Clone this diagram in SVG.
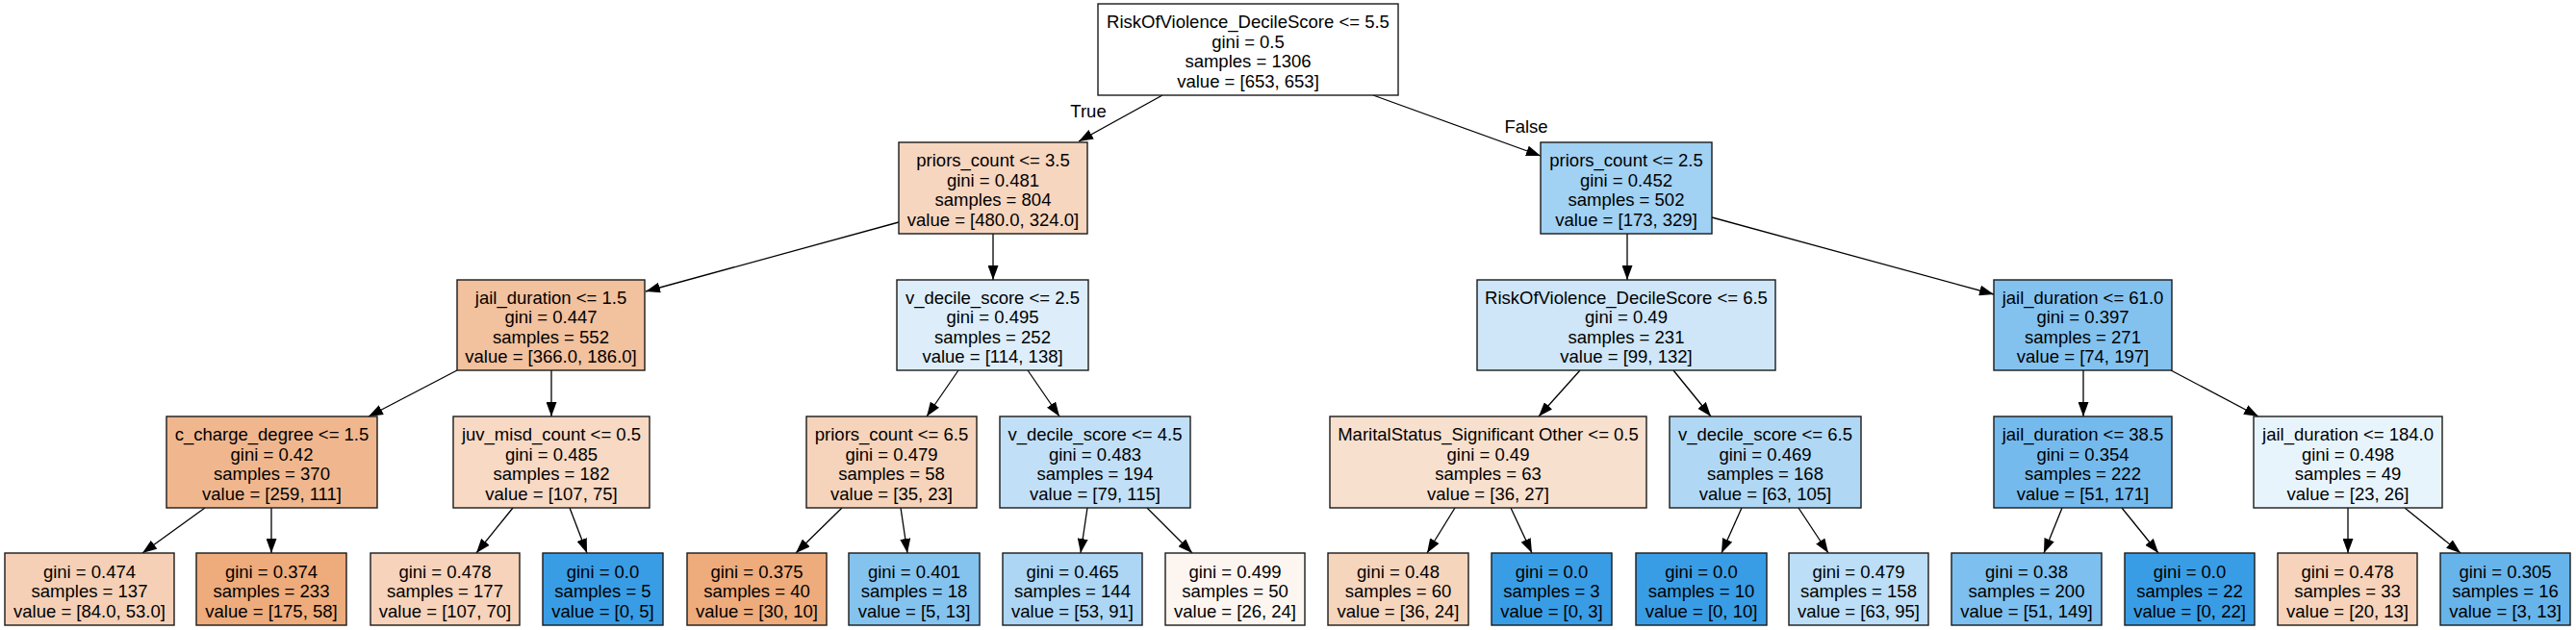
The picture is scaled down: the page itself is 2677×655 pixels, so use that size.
<svg xmlns="http://www.w3.org/2000/svg" width="2677" height="655" viewBox="0 0 2677 655">
<style>
.bg{fill:#ffffff}
.box{stroke:#1a1a1a;stroke-width:1.4}
.t{font-family:"Liberation Sans",Arial,Helvetica,sans-serif;font-size:18.5px;fill:#000;text-anchor:middle}
.e{stroke:#000;stroke-width:1.3;fill:none;marker-end:url(#arr)}
</style>
<defs>
<marker id="arr" markerUnits="userSpaceOnUse" markerWidth="15" markerHeight="11" viewBox="0 0 15 11" refX="15" refY="5.5" orient="auto">
<path d="M0,0 L15,5.5 L0,11 z" fill="#000"/>
</marker>
</defs>
<rect class="bg" x="0" y="0" width="2677" height="655"/>
<g id="edges">
<line class="e" x1="1208" y1="99" x2="1121" y2="147"/>
<line class="e" x1="1427" y1="99" x2="1601" y2="162"/>
<line class="e" x1="934" y1="231" x2="671" y2="303"/>
<line class="e" x1="1032" y1="243" x2="1032" y2="291"/>
<line class="e" x1="1691" y1="243" x2="1691" y2="291"/>
<line class="e" x1="1779" y1="226" x2="2072" y2="306"/>
<line class="e" x1="475" y1="385" x2="383" y2="433"/>
<line class="e" x1="573" y1="385" x2="573" y2="433"/>
<line class="e" x1="996" y1="385" x2="963" y2="433"/>
<line class="e" x1="1068" y1="385" x2="1101" y2="433"/>
<line class="e" x1="1642" y1="385" x2="1599" y2="433"/>
<line class="e" x1="1739" y1="385" x2="1778" y2="433"/>
<line class="e" x1="2165" y1="385" x2="2165" y2="433"/>
<line class="e" x1="2256" y1="385" x2="2347" y2="433"/>
<line class="e" x1="213" y1="528" x2="148" y2="575"/>
<line class="e" x1="282" y1="528" x2="282" y2="575"/>
<line class="e" x1="533" y1="528" x2="495" y2="575"/>
<line class="e" x1="592" y1="528" x2="610" y2="575"/>
<line class="e" x1="875" y1="528" x2="827" y2="575"/>
<line class="e" x1="936" y1="528" x2="943" y2="575"/>
<line class="e" x1="1130" y1="528" x2="1123" y2="575"/>
<line class="e" x1="1192" y1="528" x2="1239" y2="575"/>
<line class="e" x1="1512" y1="528" x2="1483" y2="575"/>
<line class="e" x1="1570" y1="528" x2="1592" y2="575"/>
<line class="e" x1="1810" y1="528" x2="1789" y2="575"/>
<line class="e" x1="1869" y1="528" x2="1900" y2="575"/>
<line class="e" x1="2143" y1="528" x2="2124" y2="575"/>
<line class="e" x1="2205" y1="528" x2="2243" y2="575"/>
<line class="e" x1="2440" y1="528" x2="2440" y2="575"/>
<line class="e" x1="2499" y1="528" x2="2557" y2="575"/>
<text class="t" x="1131" y="122">True</text>
<text class="t" x="1586" y="138">False</text>
</g>
<g id="n0"><rect class="box" x="1141" y="4" width="312" height="95" fill="#ffffff"/>
<text class="t"><tspan x="1297" y="29">RiskOfViolence_DecileScore &lt;= 5.5</tspan><tspan x="1297" y="49.5">gini = 0.5</tspan><tspan x="1297" y="70">samples = 1306</tspan><tspan x="1297" y="90.5">value = [653, 653]</tspan></text></g>
<g id="n1"><rect class="box" x="934" y="148" width="196" height="95" fill="#f7d6bf"/>
<text class="t"><tspan x="1032" y="173">priors_count &lt;= 3.5</tspan><tspan x="1032" y="193.5">gini = 0.481</tspan><tspan x="1032" y="214">samples = 804</tspan><tspan x="1032" y="234.5">value = [480.0, 324.0]</tspan></text></g>
<g id="n2"><rect class="box" x="1601" y="148" width="178" height="95" fill="#a1d1f3"/>
<text class="t"><tspan x="1690" y="173">priors_count &lt;= 2.5</tspan><tspan x="1690" y="193.5">gini = 0.452</tspan><tspan x="1690" y="214">samples = 502</tspan><tspan x="1690" y="234.5">value = [173, 329]</tspan></text></g>
<g id="n3"><rect class="box" x="475" y="291" width="195" height="94" fill="#f2c19e"/>
<text class="t"><tspan x="572.5" y="315.5">jail_duration &lt;= 1.5</tspan><tspan x="572.5" y="336">gini = 0.447</tspan><tspan x="572.5" y="356.5">samples = 552</tspan><tspan x="572.5" y="377">value = [366.0, 186.0]</tspan></text></g>
<g id="n4"><rect class="box" x="932" y="291" width="199" height="94" fill="#ddeefa"/>
<text class="t"><tspan x="1031.5" y="315.5">v_decile_score &lt;= 2.5</tspan><tspan x="1031.5" y="336">gini = 0.495</tspan><tspan x="1031.5" y="356.5">samples = 252</tspan><tspan x="1031.5" y="377">value = [114, 138]</tspan></text></g>
<g id="n5"><rect class="box" x="1535" y="291" width="310" height="94" fill="#cee6f8"/>
<text class="t"><tspan x="1690" y="315.5">RiskOfViolence_DecileScore &lt;= 6.5</tspan><tspan x="1690" y="336">gini = 0.49</tspan><tspan x="1690" y="356.5">samples = 231</tspan><tspan x="1690" y="377">value = [99, 132]</tspan></text></g>
<g id="n6"><rect class="box" x="2072" y="291" width="185" height="94" fill="#83c2ef"/>
<text class="t"><tspan x="2164.5" y="315.5">jail_duration &lt;= 61.0</tspan><tspan x="2164.5" y="336">gini = 0.397</tspan><tspan x="2164.5" y="356.5">samples = 271</tspan><tspan x="2164.5" y="377">value = [74, 197]</tspan></text></g>
<g id="n7"><rect class="box" x="173" y="433" width="219" height="95" fill="#f0b78e"/>
<text class="t"><tspan x="282.5" y="458">c_charge_degree &lt;= 1.5</tspan><tspan x="282.5" y="478.5">gini = 0.42</tspan><tspan x="282.5" y="499">samples = 370</tspan><tspan x="282.5" y="519.5">value = [259, 111]</tspan></text></g>
<g id="n8"><rect class="box" x="471" y="433" width="204" height="95" fill="#f7d9c4"/>
<text class="t"><tspan x="573" y="458">juv_misd_count &lt;= 0.5</tspan><tspan x="573" y="478.5">gini = 0.485</tspan><tspan x="573" y="499">samples = 182</tspan><tspan x="573" y="519.5">value = [107, 75]</tspan></text></g>
<g id="n9"><rect class="box" x="838" y="433" width="177" height="95" fill="#f6d4bb"/>
<text class="t"><tspan x="926.5" y="458">priors_count &lt;= 6.5</tspan><tspan x="926.5" y="478.5">gini = 0.479</tspan><tspan x="926.5" y="499">samples = 58</tspan><tspan x="926.5" y="519.5">value = [35, 23]</tspan></text></g>
<g id="n10"><rect class="box" x="1039" y="433" width="198" height="95" fill="#c1e0f7"/>
<text class="t"><tspan x="1138" y="458">v_decile_score &lt;= 4.5</tspan><tspan x="1138" y="478.5">gini = 0.483</tspan><tspan x="1138" y="499">samples = 194</tspan><tspan x="1138" y="519.5">value = [79, 115]</tspan></text></g>
<g id="n11"><rect class="box" x="1382" y="433" width="329" height="95" fill="#f8e0ce"/>
<text class="t"><tspan x="1546.5" y="458">MaritalStatus_Significant Other &lt;= 0.5</tspan><tspan x="1546.5" y="478.5">gini = 0.49</tspan><tspan x="1546.5" y="499">samples = 63</tspan><tspan x="1546.5" y="519.5">value = [36, 27]</tspan></text></g>
<g id="n12"><rect class="box" x="1735" y="433" width="199" height="95" fill="#b0d8f5"/>
<text class="t"><tspan x="1834.5" y="458">v_decile_score &lt;= 6.5</tspan><tspan x="1834.5" y="478.5">gini = 0.469</tspan><tspan x="1834.5" y="499">samples = 168</tspan><tspan x="1834.5" y="519.5">value = [63, 105]</tspan></text></g>
<g id="n13"><rect class="box" x="2072" y="433" width="185" height="95" fill="#74baed"/>
<text class="t"><tspan x="2164.5" y="458">jail_duration &lt;= 38.5</tspan><tspan x="2164.5" y="478.5">gini = 0.354</tspan><tspan x="2164.5" y="499">samples = 222</tspan><tspan x="2164.5" y="519.5">value = [51, 171]</tspan></text></g>
<g id="n14"><rect class="box" x="2342" y="433" width="196" height="95" fill="#e8f4fc"/>
<text class="t"><tspan x="2440" y="458">jail_duration &lt;= 184.0</tspan><tspan x="2440" y="478.5">gini = 0.498</tspan><tspan x="2440" y="499">samples = 49</tspan><tspan x="2440" y="519.5">value = [23, 26]</tspan></text></g>
<g id="l1"><rect class="box" x="5" y="575" width="176" height="75" fill="#f5d0b6"/>
<text class="t"><tspan x="93" y="600.5">gini = 0.474</tspan><tspan x="93" y="621">samples = 137</tspan><tspan x="93" y="641.5">value = [84.0, 53.0]</tspan></text></g>
<g id="l2"><rect class="box" x="204" y="575" width="156" height="75" fill="#eeab7b"/>
<text class="t"><tspan x="282" y="600.5">gini = 0.374</tspan><tspan x="282" y="621">samples = 233</tspan><tspan x="282" y="641.5">value = [175, 58]</tspan></text></g>
<g id="l3"><rect class="box" x="385" y="575" width="155" height="75" fill="#f6d3ba"/>
<text class="t"><tspan x="462.5" y="600.5">gini = 0.478</tspan><tspan x="462.5" y="621">samples = 177</tspan><tspan x="462.5" y="641.5">value = [107, 70]</tspan></text></g>
<g id="l4"><rect class="box" x="564" y="575" width="125" height="75" fill="#399de5"/>
<text class="t"><tspan x="626.5" y="600.5">gini = 0.0</tspan><tspan x="626.5" y="621">samples = 5</tspan><tspan x="626.5" y="641.5">value = [0, 5]</tspan></text></g>
<g id="l5"><rect class="box" x="714" y="575" width="145" height="75" fill="#eeab7b"/>
<text class="t"><tspan x="786.5" y="600.5">gini = 0.375</tspan><tspan x="786.5" y="621">samples = 40</tspan><tspan x="786.5" y="641.5">value = [30, 10]</tspan></text></g>
<g id="l6"><rect class="box" x="882" y="575" width="136" height="75" fill="#85c3ef"/>
<text class="t"><tspan x="950" y="600.5">gini = 0.401</tspan><tspan x="950" y="621">samples = 18</tspan><tspan x="950" y="641.5">value = [5, 13]</tspan></text></g>
<g id="l7"><rect class="box" x="1042" y="575" width="145" height="75" fill="#acd6f4"/>
<text class="t"><tspan x="1114.5" y="600.5">gini = 0.465</tspan><tspan x="1114.5" y="621">samples = 144</tspan><tspan x="1114.5" y="641.5">value = [53, 91]</tspan></text></g>
<g id="l8"><rect class="box" x="1211" y="575" width="145" height="75" fill="#fdf5f0"/>
<text class="t"><tspan x="1283.5" y="600.5">gini = 0.499</tspan><tspan x="1283.5" y="621">samples = 50</tspan><tspan x="1283.5" y="641.5">value = [26, 24]</tspan></text></g>
<g id="l9"><rect class="box" x="1380" y="575" width="146" height="75" fill="#f6d5bd"/>
<text class="t"><tspan x="1453" y="600.5">gini = 0.48</tspan><tspan x="1453" y="621">samples = 60</tspan><tspan x="1453" y="641.5">value = [36, 24]</tspan></text></g>
<g id="l10"><rect class="box" x="1550" y="575" width="125" height="75" fill="#399de5"/>
<text class="t"><tspan x="1612.5" y="600.5">gini = 0.0</tspan><tspan x="1612.5" y="621">samples = 3</tspan><tspan x="1612.5" y="641.5">value = [0, 3]</tspan></text></g>
<g id="l11"><rect class="box" x="1700" y="575" width="136" height="75" fill="#399de5"/>
<text class="t"><tspan x="1768" y="600.5">gini = 0.0</tspan><tspan x="1768" y="621">samples = 10</tspan><tspan x="1768" y="641.5">value = [0, 10]</tspan></text></g>
<g id="l12"><rect class="box" x="1859" y="575" width="145" height="75" fill="#bcdef6"/>
<text class="t"><tspan x="1931.5" y="600.5">gini = 0.479</tspan><tspan x="1931.5" y="621">samples = 158</tspan><tspan x="1931.5" y="641.5">value = [63, 95]</tspan></text></g>
<g id="l13"><rect class="box" x="2028" y="575" width="156" height="75" fill="#7dbfee"/>
<text class="t"><tspan x="2106" y="600.5">gini = 0.38</tspan><tspan x="2106" y="621">samples = 200</tspan><tspan x="2106" y="641.5">value = [51, 149]</tspan></text></g>
<g id="l14"><rect class="box" x="2208" y="575" width="135" height="75" fill="#399de5"/>
<text class="t"><tspan x="2275.5" y="600.5">gini = 0.0</tspan><tspan x="2275.5" y="621">samples = 22</tspan><tspan x="2275.5" y="641.5">value = [0, 22]</tspan></text></g>
<g id="l15"><rect class="box" x="2367" y="575" width="145" height="75" fill="#f6d3ba"/>
<text class="t"><tspan x="2439.5" y="600.5">gini = 0.478</tspan><tspan x="2439.5" y="621">samples = 33</tspan><tspan x="2439.5" y="641.5">value = [20, 13]</tspan></text></g>
<g id="l16"><rect class="box" x="2536" y="575" width="135" height="75" fill="#67b4eb"/>
<text class="t"><tspan x="2603.5" y="600.5">gini = 0.305</tspan><tspan x="2603.5" y="621">samples = 16</tspan><tspan x="2603.5" y="641.5">value = [3, 13]</tspan></text></g>
</svg>
